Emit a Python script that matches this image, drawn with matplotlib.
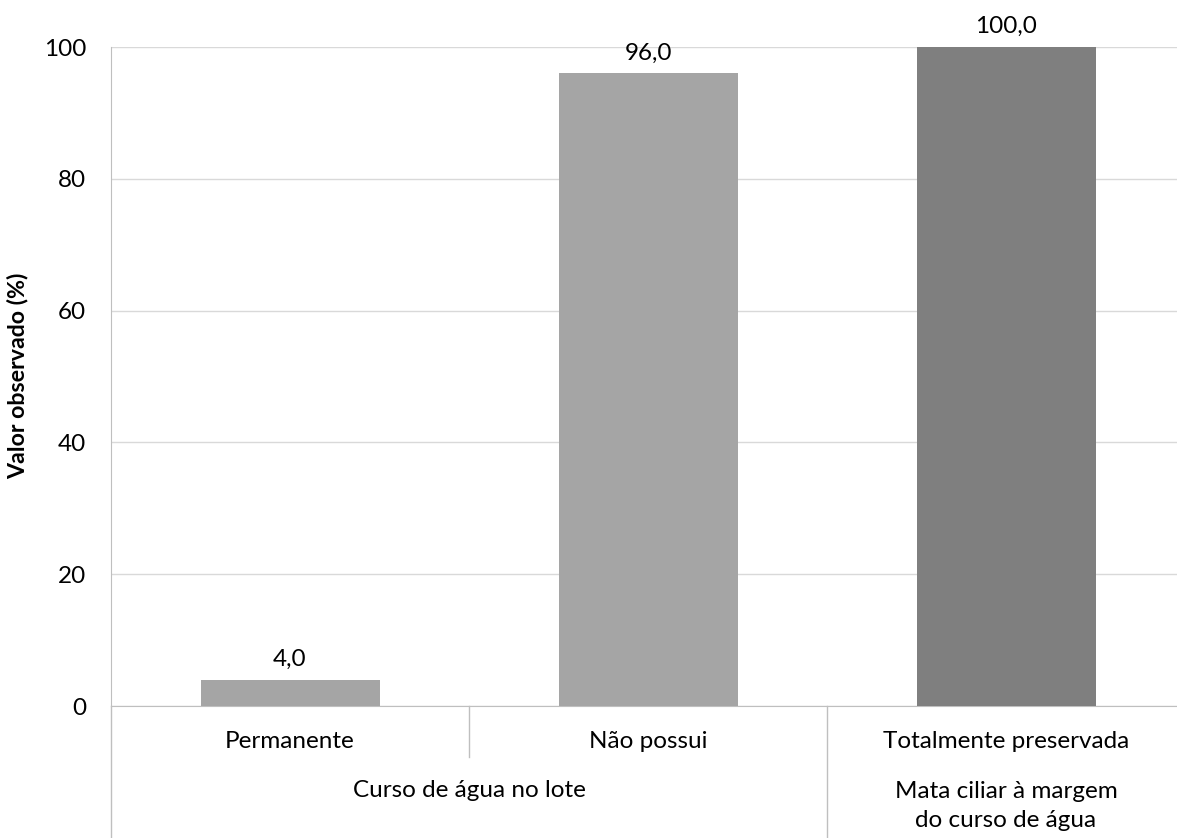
import matplotlib
matplotlib.use("Agg")
import matplotlib.pyplot as plt
import matplotlib.transforms as mtransforms

# ── Data ──────────────────────────────────────────────────────────────────────
categories = ["Permanente", "Não possui", "Totalmente preservada"]
values = [4.0, 96.0, 100.0]
bar_colors = ["#A5A5A5", "#A5A5A5", "#7F7F7F"]
groups = ["Curso de água no lote", "Mata ciliar à margem\ndo curso de água"]
group_spans = [(0, 1), (2, 2)]   # first/last category index of each group
y_ticks = [0, 20, 40, 60, 80, 100]

plt.rcParams["font.family"] = ["Lato", "DejaVu Sans"]
FS = 17.5

W, H = 1177, 838
fig = plt.figure(figsize=(W / 100, H / 100), dpi=100)
ax = fig.add_axes([111 / W, 132 / H, 1074 / W, 659 / H])

x = list(range(len(categories)))
ax.bar(x, values, width=0.5, color=bar_colors, zorder=3)
for xi, v in zip(x, values):
    ax.annotate(f"{v:.1f}".replace(".", ","), (xi, v), xytext=(0, 7),
                textcoords="offset points", ha="center", va="bottom", fontsize=FS)

ax.set_xlim(-0.5, 2.5)
ax.set_ylim(0, 100)
ax.set_yticks(y_ticks)
ax.tick_params(axis="y", length=0, labelsize=FS, pad=18)
ax.set_xticks([])
ax.yaxis.grid(True, color="#D9D9D9", lw=1)
ax.set_axisbelow(True)
for s in ["top", "right"]:
    ax.spines[s].set_visible(False)
for s in ["left", "bottom"]:
    ax.spines[s].set_color("#BFBFBF")
fig.text(18 / W, (H - 376) / H, "Valor observado (%)", rotation=90,
         ha="center", va="center", fontsize=FS * 0.95, fontweight="bold")

# category axis with two label rows
trans = mtransforms.blended_transform_factory(ax.transData, fig.transFigure)
for xi, c in zip(x, categories):
    ax.text(xi, (H - 741) / H, c, transform=trans, ha="center", va="center", fontsize=FS)
for g, (a, b) in zip(groups, group_spans):
    yc = (H - 806) / H if "\n" in g else (H - 790) / H
    ax.text((a + b) / 2, yc, g, transform=trans, ha="center", va="center",
            fontsize=FS, linespacing=1.45)

line_kw = dict(transform=trans, color="#BFBFBF", lw=1, clip_on=False)
bottom = 132 / H
ax.plot([-0.5, -0.5], [0, bottom], **line_kw)
ax.plot([0.5, 0.5], [(H - 757) / H, bottom], **line_kw)
ax.plot([1.5, 1.5], [0, bottom], **line_kw)

fig.savefig("out.png", dpi=100)
